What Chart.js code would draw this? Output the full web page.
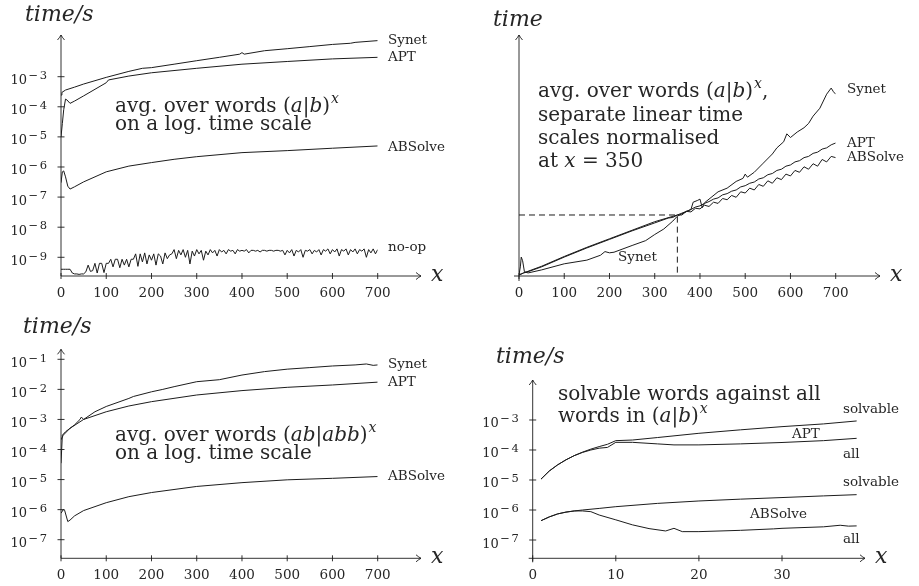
<!DOCTYPE html>
<html>
<head>
<meta charset="utf-8">
<script src="https://cdn.jsdelivr.net/npm/chart.js@4.4.0/dist/chart.umd.min.js"></script>
<style>
  body { margin: 0; background: #fff; }
  #wrap { position: relative; width: 919px; height: 586px; overflow: hidden; }
  #wrap canvas { position: absolute; }
</style>
</head>
<body>
<div id="wrap">
  <canvas id="g1" width="460" height="300" style="left:0px;top:0px"></canvas>
  <canvas id="g2" width="459" height="300" style="left:460px;top:0px"></canvas>
  <canvas id="g3" width="460" height="286" style="left:0px;top:300px"></canvas>
  <canvas id="g4" width="459" height="286" style="left:460px;top:300px"></canvas>
</div>
<script>
// --- dades llegides del gràfic ---

// panell 1: paraules (a|b)^x, escala log
const p1SynetX = [0, 2, 10, 30, 50, 100, 150, 180, 200, 250, 300, 350, 395, 400, 405, 450, 500, 550, 600, 640, 650, 700];
const p1SynetY = [2.45e-4, 3.0e-4, 3.6e-4, 4.5e-4, 5.7e-4, 9.5e-4, 1.5e-3, 1.9e-3, 2.0e-3, 2.6e-3, 3.4e-3, 4.4e-3, 5.6e-3, 6.3e-3, 5.6e-3, 7.3e-3, 8.5e-3, 1.0e-2, 1.18e-2, 1.29e-2, 1.38e-2, 1.58e-2];
const p1AptX = [0, 3, 6, 10, 13, 20, 30, 50, 100, 105, 150, 200, 300, 400, 500, 600, 700];
const p1AptY = [1e-5, 2.8e-5, 8e-5, 1.8e-4, 1.7e-4, 1.3e-4, 1.55e-4, 2.3e-4, 6.3e-4, 7.8e-4, 1.05e-3, 1.35e-3, 1.9e-3, 2.6e-3, 3.2e-3, 3.9e-3, 4.4e-3];
const p1AbsX = [0, 3, 6, 10, 15, 20, 30, 50, 100, 150, 200, 250, 300, 400, 500, 600, 700];
const p1AbsY = [3.0e-7, 6.9e-7, 7.4e-7, 4.7e-7, 2.3e-7, 1.85e-7, 2.2e-7, 3.2e-7, 6.9e-7, 1.07e-6, 1.4e-6, 1.8e-6, 2.2e-6, 3.0e-6, 3.5e-6, 4.2e-6, 5.0e-6];
// no-op: un valor cada 5 unitats de x (0..700)
const p1NoopStep = 5;
const p1NoopY = [
  4e-10, 4e-10, 4e-10, 4e-10, 4e-10,
  3.0e-10, 2.8e-10, 2.8e-10, 2.7e-10, 2.8e-10, 2.8e-10,
  3.3e-10, 5.5e-10, 3.4e-10, 3.6e-10,
  6.3e-10, 3.0e-10, 6.3e-10, 6.3e-10, 3.1e-10, 6.3e-10, 6.3e-10,
  8.6e-10, 4.8e-10, 8.6e-10, 8.6e-10, 4.5e-10, 8.6e-10, 5.5e-10, 8.6e-10, 4.8e-10, 8.6e-10, 8.6e-10,
  1.3e-9, 5e-10, 1.3e-9, 7e-10, 1.4e-9, 6e-10, 1.2e-9, 8e-10, 1.3e-9, 5.5e-10, 1.3e-9, 1.1e-9, 6e-10, 1.4e-9, 9e-10, 1.2e-9, 1.3e-9,
  1.8e-9, 9e-10, 1.7e-9, 1.2e-9, 1.8e-9, 1.0e-9, 1.7e-9, 6e-10, 1.6e-9, 1.1e-9,
  1.8e-9, 1.3e-9, 1.7e-9, 8e-10, 1.6e-9, 1.2e-9, 1.8e-9, 1.4e-9, 1.7e-9, 1.1e-9,
  1.8e-9, 1.5e-9, 1.7e-9, 1.3e-9, 1.8e-9, 1.6e-9, 1.7e-9, 1.3e-9, 1.8e-9, 1.6e-9,
  1.7e-9, 1.6e-9, 1.8e-9, 1.4e-9, 1.7e-9, 1.7e-9, 1.6e-9, 1.7e-9, 1.5e-9, 1.7e-9,
  1.7e-9, 1.6e-9, 1.7e-9, 1.7e-9, 1.6e-9, 1.7e-9, 1.7e-9, 1.6e-9, 1.7e-9, 1.2e-9,
  1.7e-9, 1.4e-9, 1.8e-9, 1.1e-9, 1.7e-9, 1.5e-9, 1.8e-9, 1.0e-9, 1.7e-9, 1.6e-9,
  1.8e-9, 1.3e-9, 1.7e-9, 1.5e-9, 1.8e-9, 1.2e-9, 1.8e-9, 1.6e-9, 1.9e-9, 1.3e-9,
  1.8e-9, 1.5e-9, 1.9e-9, 1.1e-9, 1.8e-9, 1.6e-9, 1.9e-9, 1.2e-9, 1.8e-9, 1.5e-9,
  1.9e-9, 1.3e-9, 1.8e-9, 1.6e-9, 1.9e-9, 1.0e-9, 1.8e-9, 1.4e-9, 1.9e-9, 1.3e-9,
  1.8e-9
];

// panell 2: escales lineals normalitzades a x = 350
const p2SynetX = [0, 3, 5, 8, 12, 20, 50, 100, 150, 180, 190, 200, 210, 250, 280, 300, 320, 340, 350, 360, 380, 385, 395, 400, 405, 410, 440, 460, 480, 495, 500, 505, 520, 540, 560, 570, 585, 592, 600, 615, 630, 640, 650, 665, 680, 690, 695, 700];
const p2SynetY = [0.02, 0.15, 0.31, 0.25, 0.07, 0.05, 0.10, 0.20, 0.26, 0.34, 0.40, 0.38, 0.39, 0.50, 0.58, 0.68, 0.77, 0.90, 0.98, 1.02, 1.09, 1.21, 1.24, 1.26, 1.12, 1.20, 1.38, 1.44, 1.55, 1.60, 1.67, 1.62, 1.70, 1.85, 2.0, 2.1, 2.2, 2.33, 2.27, 2.36, 2.43, 2.5, 2.62, 2.75, 2.98, 3.08, 3.02, 2.98];
const p2AptX = [0, 10, 50, 100, 150, 200, 250, 300, 350, 360, 370, 380, 390, 400, 410, 420, 430, 440, 450, 460, 470, 480, 490, 500, 510, 520, 530, 540, 550, 560, 570, 580, 590, 600, 610, 620, 630, 640, 650, 660, 670, 680, 690, 700];
const p2AptY = [0.02, 0.05, 0.16, 0.32, 0.47, 0.61, 0.75, 0.89, 1.0, 1.03, 1.06, 1.09, 1.13, 1.15, 1.19, 1.22, 1.26, 1.28, 1.33, 1.35, 1.39, 1.41, 1.46, 1.48, 1.52, 1.54, 1.59, 1.61, 1.66, 1.68, 1.73, 1.75, 1.80, 1.82, 1.87, 1.89, 1.94, 1.96, 2.01, 2.03, 2.08, 2.10, 2.15, 2.18];
const p2AbsX = [0, 5, 10, 20, 50, 100, 150, 200, 250, 300, 330, 340, 350, 360, 370, 380, 390, 400, 410, 420, 430, 440, 450, 460, 470, 480, 490, 500, 510, 520, 530, 540, 550, 560, 570, 580, 590, 600, 610, 620, 630, 640, 650, 660, 670, 680, 690, 700];
const p2AbsY = [0.02, 0.03, 0.05, 0.07, 0.15, 0.31, 0.46, 0.60, 0.74, 0.87, 0.95, 0.96, 1.00, 1.00, 1.06, 1.05, 1.11, 1.10, 1.16, 1.14, 1.21, 1.19, 1.27, 1.25, 1.32, 1.29, 1.38, 1.36, 1.44, 1.41, 1.50, 1.47, 1.56, 1.52, 1.61, 1.58, 1.67, 1.64, 1.73, 1.70, 1.79, 1.75, 1.84, 1.80, 1.91, 1.87, 1.96, 1.94];
const p2NormX = [0, 350, 350];
const p2NormY = [1, 1, 0];

// panell 3: paraules (ab|abb)^x, escala log
const p3SynetX = [0, 3, 10, 30, 42, 45, 50, 75, 100, 150, 160, 200, 225, 250, 300, 350, 400, 450, 500, 550, 600, 650, 675, 690, 700];
const p3SynetY = [3.5e-5, 3.0e-4, 3.9e-4, 6.6e-4, 1.0e-3, 1.2e-3, 1.0e-3, 1.8e-3, 2.7e-3, 5.0e-3, 5.8e-3, 8.3e-3, 1.0e-2, 1.23e-2, 1.8e-2, 2.1e-2, 3.0e-2, 3.9e-2, 4.7e-2, 5.3e-2, 6.0e-2, 6.5e-2, 7.0e-2, 6.3e-2, 6.5e-2];
const p3AptX = [0, 5, 20, 50, 100, 150, 200, 300, 400, 500, 600, 700];
const p3AptY = [2.1e-4, 3.0e-4, 5.1e-4, 1.0e-3, 1.8e-3, 2.8e-3, 3.9e-3, 6.5e-3, 9.1e-3, 1.17e-2, 1.4e-2, 1.74e-2];
const p3AbsX = [0, 5, 8, 15, 20, 30, 50, 100, 150, 200, 300, 400, 500, 600, 700];
const p3AbsY = [7.6e-7, 1.0e-6, 9.5e-7, 4.0e-7, 4.5e-7, 6.2e-7, 9.3e-7, 1.7e-6, 2.7e-6, 3.7e-6, 5.9e-6, 7.9e-6, 9.8e-6, 1.1e-5, 1.26e-5];

// panell 4: paraules resolubles contra totes
const p4AptSolvX = [1, 2, 3, 4, 5, 6, 7, 8, 9, 10, 12, 15, 20, 25, 30, 35, 39];
const p4AptSolvY = [1.07e-5, 2.0e-5, 3.2e-5, 4.7e-5, 6.5e-5, 8.5e-5, 1.07e-4, 1.3e-4, 1.55e-4, 2.05e-4, 2.15e-4, 2.6e-4, 3.6e-4, 4.7e-4, 6.0e-4, 7.4e-4, 9.3e-4];
const p4AptAllX = [1, 2, 3, 4, 5, 6, 7, 8, 9, 10, 12, 15, 17, 20, 25, 30, 35, 39];
const p4AptAllY = [1.07e-5, 2.0e-5, 3.2e-5, 4.7e-5, 6.5e-5, 8.3e-5, 1.0e-4, 1.15e-4, 1.22e-4, 1.8e-4, 1.8e-4, 1.6e-4, 1.48e-4, 1.48e-4, 1.6e-4, 1.78e-4, 2.05e-4, 2.45e-4];
const p4AbsSolvX = [1, 2, 3, 4, 5, 6, 8, 10, 15, 20, 25, 30, 35, 39];
const p4AbsSolvY = [4.4e-7, 5.9e-7, 7.4e-7, 8.5e-7, 9.3e-7, 1.0e-6, 1.13e-6, 1.29e-6, 1.66e-6, 2.0e-6, 2.3e-6, 2.6e-6, 2.95e-6, 3.25e-6];
const p4AbsAllX = [1, 2, 3, 4, 5, 6, 7, 8, 10, 12, 14, 16, 17, 18, 20, 25, 29, 30, 35, 37, 38, 39];
const p4AbsAllY = [4.4e-7, 5.9e-7, 7.4e-7, 8.5e-7, 9.3e-7, 9.3e-7, 8.8e-7, 6.8e-7, 4.7e-7, 3.2e-7, 2.4e-7, 2.0e-7, 2.45e-7, 1.9e-7, 1.9e-7, 2.1e-7, 2.35e-7, 2.45e-7, 2.75e-7, 3.1e-7, 2.9e-7, 2.95e-7];

// ticks
const xTicks700 = [0, 100, 200, 300, 400, 500, 600, 700];
const xTicks39 = [0, 10, 20, 30];
const p1YTicks = [1e-9, 1e-8, 1e-7, 1e-6, 1e-5, 1e-4, 1e-3];
const p3YTicks = [1e-7, 1e-6, 1e-5, 1e-4, 1e-3, 1e-2, 1e-1];
const p4YTicks = [1e-7, 1e-6, 1e-5, 1e-4, 1e-3];

// textos (peces: [text, estil]  estil: '' normal, 'i' cursiva, 's' superíndex)
const noteP1 = [
  [['avg. over words (', ''], ['a', 'i'], ['|', ''], ['b', 'i'], [')', ''], ['x', 's']],
  [['on a log. time scale', '']]
];
const noteP2 = [
  [['avg. over words (', ''], ['a', 'i'], ['|', ''], ['b', 'i'], [')', ''], ['x', 's'], [',', '']],
  [['separate linear time', '']],
  [['scales normalised', '']],
  [['at ', ''], ['x', 'i'], [' = 350', '']]
];
const noteP3 = [
  [['avg. over words (', ''], ['ab', 'i'], ['|', ''], ['abb', 'i'], [')', ''], ['x', 's']],
  [['on a log. time scale', '']]
];
const noteP4 = [
  [['solvable words against all', '']],
  [['words in (', ''], ['a', 'i'], ['|', ''], ['b', 'i'], [')', ''], ['x', 's']]
];

const SERIF = '"DejaVu Serif", serif';
const INK = '#1c1c1c';
const TEXT = '#262626';

const pts = (xs, ys) => xs.map((x, i) => ({ x: x, y: ys[i] }));

function serie(data, dash) {
  return { data: data, borderColor: INK, borderWidth: 1, pointRadius: 0, tension: 0, fill: false, borderDash: dash || [] };
}

function pintaPeces(ctx, x, y, peces, mida) {
  let cx = x;
  peces.forEach(p => {
    const txt = p[0], st = p[1];
    if (st === 's') {
      ctx.font = `italic ${Math.round(mida * 0.7)}px ${SERIF}`;
      ctx.fillText(txt, cx + 1, y - mida * 0.45);
      cx += ctx.measureText(txt).width + 1;
    } else {
      ctx.font = `${st === 'i' ? 'italic ' : ''}${mida}px ${SERIF}`;
      ctx.fillText(txt, cx, y);
      cx += ctx.measureText(txt).width;
    }
  });
}

function fletxa(ctx, x, y, dir) {
  ctx.beginPath();
  if (dir === 'r') {
    ctx.moveTo(x - 5, y - 3.5); ctx.quadraticCurveTo(x - 2, y - 1, x, y);
    ctx.quadraticCurveTo(x - 2, y + 1, x - 5, y + 3.5);
  } else {
    ctx.moveTo(x - 3.5, y + 5); ctx.quadraticCurveTo(x - 1, y + 2, x, y);
    ctx.quadraticCurveTo(x + 1, y + 2, x + 3.5, y + 5);
  }
  ctx.stroke();
}

// eixos amb fletxes, marques, etiquetes i notes
const decoracio = {
  id: 'deco',
  afterDatasetsDraw(chart, args, o) {
    const ctx = chart.ctx, sx = chart.scales.x, sy = chart.scales.y;
    const L = chart.chartArea.left, B = chart.chartArea.bottom, T = chart.chartArea.top;
    ctx.save();
    ctx.strokeStyle = INK; ctx.fillStyle = TEXT; ctx.lineWidth = 0.9;
    ctx.setLineDash([]);

    ctx.beginPath();
    ctx.moveTo(L - o.over, B); ctx.lineTo(o.tipX, B);
    ctx.moveTo(L, B + o.over); ctx.lineTo(L, T);
    ctx.stroke();
    fletxa(ctx, o.tipX, B, 'r');
    fletxa(ctx, L, T, 'u');

    // marques i etiquetes de l'eix x
    ctx.textAlign = 'center'; ctx.textBaseline = 'alphabetic';
    ctx.font = `13.5px ${SERIF}`;
    o.xTicks.forEach(v => {
      const px = sx.getPixelForValue(v);
      ctx.beginPath(); ctx.moveTo(px, B - 3); ctx.lineTo(px, B + 3); ctx.stroke();
      ctx.fillText(String(v), px, B + 21);
    });

    // marques i etiquetes de l'eix y (10^n)
    ctx.textAlign = 'left';
    o.yTicks.forEach(v => {
      const py = sy.getPixelForValue(v);
      ctx.beginPath(); ctx.moveTo(L - 3.5, py); ctx.lineTo(L + 3.5, py); ctx.stroke();
      const n = String(Math.abs(Math.round(Math.log10(v))));
      ctx.font = `11.5px ${SERIF}`;
      const wMinus = ctx.measureText('\u2212').width;
      const wN = ctx.measureText(n).width;
      ctx.font = `13px ${SERIF}`;
      const wBase = ctx.measureText('10').width;
      const x0 = L - 14 - wN - 1.5 - wMinus - 1.5 - wBase;
      ctx.fillText('10', x0, py + 7.5);
      ctx.font = `11.5px ${SERIF}`;
      ctx.fillText('\u2212', x0 + wBase + 1.5, py + 2.3);
      ctx.fillText(n, x0 + wBase + 1.5 + wMinus + 1.5, py + 2.3);
    });

    // títols dels eixos
    ctx.font = `italic 22px ${SERIF}`;
    ctx.fillText(o.yTitle[0], o.yTitle[1], o.yTitle[2]);
    ctx.fillText('x', o.tipX + 10, B + 5);

    // noms de les sèries
    ctx.font = `13.5px ${SERIF}`;
    ctx.textBaseline = 'middle';
    o.labels.forEach(l => ctx.fillText(l[0], l[1], l[2]));

    // nota
    ctx.textBaseline = 'alphabetic';
    o.note.lines.forEach((linia, i) => pintaPeces(ctx, o.note.x, o.note.y[i], linia, 20));
    ctx.restore();
  }
};

function grafic(id, datasets, padding, xMax, yType, yMin, yMax, deco) {
  new Chart(document.getElementById(id), {
    type: 'line',
    data: { datasets: datasets },
    options: {
      responsive: false,
      animation: false,
      events: [],
      layout: { padding: padding },
      plugins: { legend: { display: false }, tooltip: { enabled: false }, deco: deco },
      scales: {
        x: { type: 'linear', display: false, min: 0, max: xMax },
        y: { type: yType, display: false, min: yMin, max: yMax }
      }
    },
    plugins: [decoracio]
  });
}

// panell 1
grafic('g1', [
  serie(pts(p1SynetX, p1SynetY)),
  serie(pts(p1AptX, p1AptY)),
  serie(pts(p1AbsX, p1AbsY)),
  serie(p1NoopY.map((y, i) => ({ x: i * p1NoopStep, y: y })))
], { left: 61, right: 82.3, top: 35, bottom: 24 }, 700, 'logarithmic', 2.39e-10, 2.427e-2, {
  tipX: 421, over: 0, xTicks: xTicks700, yTicks: p1YTicks,
  yTitle: ['time/s', 25, 21],
  labels: [['Synet', 388, 40], ['APT', 388, 57], ['ABSolve', 388, 147], ['no-op', 388, 247]],
  note: { lines: noteP1, x: 115, y: [112, 130] }
});

// panell 2
grafic('g2', [
  serie(pts(p2SynetX, p2SynetY)),
  serie(pts(p2AptX, p2AptY)),
  serie(pts(p2AbsX, p2AbsY)),
  serie(pts(p2NormX, p2NormY), [6, 4])
], { left: 59, right: 83.3, top: 35, bottom: 24 }, 700, 'linear', 0, 3.95, {
  tipX: 420, over: 5, xTicks: xTicks700, yTicks: [],
  yTitle: ['time', 33, 26],
  labels: [['Synet', 387, 89], ['APT', 387, 143], ['ABSolve', 387, 157], ['Synet', 158, 257]],
  note: { lines: noteP2, x: 78, y: [97, 120.5, 144, 167] }
});

// panell 3
grafic('g3', [
  serie(pts(p3SynetX, p3SynetY)),
  serie(pts(p3AptX, p3AptY)),
  serie(pts(p3AbsX, p3AbsY))
], { left: 61, right: 82.3, top: 49.3, bottom: 27.7 }, 700, 'logarithmic', 2.404e-8, 0.2153, {
  tipX: 421, over: 0, xTicks: xTicks700, yTicks: p3YTicks,
  yTitle: ['time/s', 23, 33],
  labels: [['Synet', 388, 64], ['APT', 388, 82.7], ['ABSolve', 388, 176.7]],
  note: { lines: noteP3, x: 115, y: [140.5, 158.5] }
});

// panell 4
grafic('g4', [
  serie(pts(p4AptSolvX, p4AptSolvY)),
  serie(pts(p4AptAllX, p4AptAllY)),
  serie(pts(p4AbsSolvX, p4AbsSolvY)),
  serie(pts(p4AbsAllX, p4AbsAllY))
], { left: 72.7, right: 62.2, top: 80, bottom: 27.7 }, 39, 'logarithmic', 2.455e-8, 2.154e-2, {
  tipX: 405, over: 4, xTicks: xTicks39, yTicks: p4YTicks,
  yTitle: ['time/s', 36, 63],
  labels: [['solvable', 383, 109], ['APT', 332, 134], ['all', 383, 154], ['solvable', 383, 182], ['ABSolve', 290, 214], ['all', 383, 239]],
  note: { lines: noteP4, x: 98, y: [99.5, 122] }
});
</script>
</body>
</html>
